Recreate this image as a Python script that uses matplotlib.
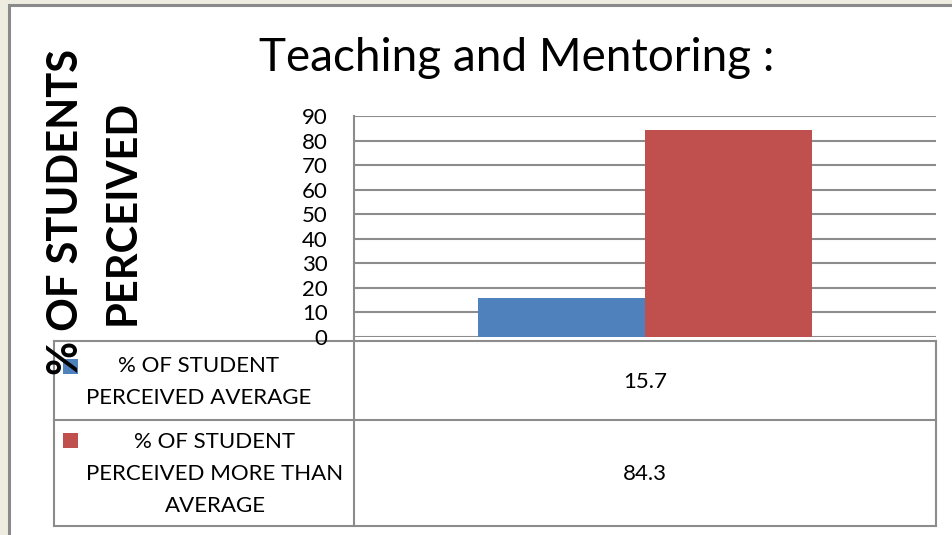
import matplotlib.pyplot as plt
from matplotlib.patches import Rectangle
from matplotlib.lines import Line2D

# data
series_labels = ["% OF STUDENT\nPERCEIVED AVERAGE", "% OF STUDENT\nPERCEIVED MORE THAN\nAVERAGE"]
series_values = [15.7, 84.3]
series_colors = ["#4f81bd", "#c0504d"]
y_ticks = [0, 10, 20, 30, 40, 50, 60, 70, 80, 90]
title = "Teaching and Mentoring :"
y_label = "% OF STUDENTS\nPERCEIVED"

W, H = 952, 535
GRID = "#8c8c8c"
FONT = "Lato"


def fx(px):
    return px / W


def fy(py):
    return 1 - py / H


fig = plt.figure(figsize=(W / 100, H / 100), dpi=100, facecolor="#eeece1")

# white slide panel
fig.patches.append(Rectangle((fx(9), -0.1), 1.2, fy(5) + 0.1, transform=fig.transFigure,
                             facecolor="white", edgecolor="#8a8a8a", linewidth=2.2, zorder=-10))

# plot area
ax = fig.add_axes([fx(354), fy(337), fx(936) - fx(354), fy(116) - fy(337)])
ax.set_zorder(5)
ax.set_facecolor("none")
ax.set_ylim(0, 90)
ax.set_xlim(-0.5, 0.5)
ax.set_yticks(y_ticks)
ax.set_yticklabels([str(t) for t in y_ticks], fontsize=16, fontname=FONT)
ax.tick_params(axis="y", length=0, pad=19)
ax.set_xticks([])
ax.yaxis.grid(True, color=GRID, linewidth=1.5)
ax.set_axisbelow(True)
for side in ["top", "right", "bottom"]:
    ax.spines[side].set_visible(False)
ax.spines["left"].set_color(GRID)
ax.spines["left"].set_linewidth(1.5)

bar_w = 0.287
for i, (v, c) in enumerate(zip(series_values, series_colors)):
    ax.bar(-bar_w + i * bar_w, v, width=bar_w, align="edge", color=c, zorder=3)

fig.text(fx(517), fy(58), title, ha="center", va="center", fontsize=33, fontname=FONT)
fig.text(fx(94), fy(212), y_label, ha="center", va="center", rotation=90,
         fontsize=30, fontweight="bold", fontname=FONT, linespacing=1.6)

# data table under the chart
col_x = [54, 354, 936]
row_y = [341, 420, 526]
label_x = [199, 215]


def hline(y, x0, x1):
    fig.add_artist(Line2D([fx(x0), fx(x1)], [fy(y), fy(y)], color=GRID, linewidth=1.5))


def vline(x, y0, y1):
    fig.add_artist(Line2D([fx(x), fx(x)], [fy(y0), fy(y1)], color=GRID, linewidth=1.5))


for y in row_y:
    hline(y, col_x[0], col_x[-1])
for x in col_x:
    vline(x, row_y[0], row_y[-1])
vline(354, 337, 341)

for i, (lab, v, c) in enumerate(zip(series_labels, series_values, series_colors)):
    y0, y1 = row_y[i], row_y[i + 1]
    yc = (y0 + y1) / 2
    sw_top = y0 + 18 if i == 0 else y0 + 13
    fig.patches.append(Rectangle((fx(63), fy(sw_top + 15)), fx(15), fy(sw_top) - fy(sw_top + 15),
                                 transform=fig.transFigure, facecolor=c, edgecolor="none"))
    fig.text(fx(label_x[i]), fy(yc + 1), lab, ha="center", va="center", fontsize=16, fontname=FONT,
             linespacing=1.75, multialignment="center")
    fig.text(fx(645), fy(yc + 1), f"{v}", ha="center", va="center", fontsize=16, fontname=FONT)

fig.savefig("out.png", dpi=100, facecolor=fig.get_facecolor())
